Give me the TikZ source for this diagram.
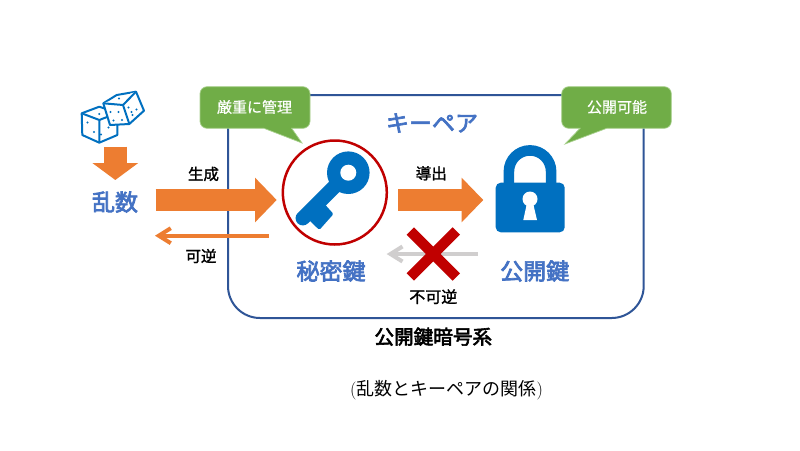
\documentclass[tikz,border=0pt]{standalone}
\usepackage{fontspec}
\newfontfamily\cjk{Noto Sans CJK JP}
\newfontfamily\cjkm[FakeBold=3]{Noto Sans CJK JP}
\newfontfamily\cjks[FakeBold=1.5]{Noto Sans CJK JP}
\newfontfamily\cjkw[FakeBold=0.6]{Noto Sans CJK JP}
\usetikzlibrary{arrows.meta}
\definecolor{cblue}{HTML}{4472C4}
\definecolor{iconblue}{HTML}{0070C0}
\definecolor{cframe}{HTML}{2F5597}
\definecolor{corange}{HTML}{ED7D31}
\definecolor{cgreen}{HTML}{70AD47}
\definecolor{cgreenl}{HTML}{A9D18E}
\definecolor{cred}{HTML}{C00000}
\definecolor{cgray}{HTML}{D0CECE}
\tikzset{
  lbl/.style={inner sep=0pt,font=\cjks\fontsize{15.5}{15.5}\selectfont,text=black},
  blue lbl/.style={inner sep=0pt,font=\cjkm\fontsize{23}{23}\selectfont,text=cblue},
  call lbl/.style={inner sep=0pt,font=\cjkw\fontsize{15}{15}\selectfont,text=white},
  callout/.style={fill=cgreen,draw=cgreenl,line width=.7pt},
  block/.style={corange,line width=21.7pt,-{Triangle[length=21.7pt,width=43.4pt]}},
  thin arrow/.style={line width=4pt,-{Straight Barb[length=12pt,width=15pt]}},
  die/.style={draw=iconblue,line width=2pt,fill=white,line join=round},
  pip/.style={fill=iconblue,draw=none},
}
\begin{document}
\begin{tikzpicture}[x=1pt,y=-1pt]
\useasboundingbox (0,0) rectangle (800,450);
\fill[white] (0,0) rectangle (800,450);
% frame
\node[draw=cframe,line width=2pt,rounded corners=32pt,minimum width=415.7pt,minimum height=223pt,inner sep=0pt] (frame) at (435.85,206.5) {};
% callouts
\draw[callout] (264,128.3) [rounded corners=7pt] -- (200,128.3) -- (200,86.7) -- (310,86.7) -- (310,128.3) [sharp corners] -- (291.7,128.3) -- (302,143) -- cycle;
\node[call lbl] (strict) at (254.5,107) {厳重に管理};
\draw[callout] (580,128.3) [rounded corners=7pt] -- (561.7,128.3) -- (561.7,86.7) -- (671.3,86.7) -- (671.3,128.3) [sharp corners] -- (606.7,128.3) -- (565,144) -- cycle;
\node[call lbl] (open) at (617,107) {公開可能};
% dice
\draw[die] (81.7,113.3) -- (99.3,106.7) -- (117.3,113) -- (117.3,135) -- (99.3,142.7) -- (82.3,135) -- cycle;
\draw[die] (81.7,113.3) -- (99.3,120) -- (117.3,113) (99.3,120) -- (99.3,142.7);
\draw[die] (103.3,103.3) -- (116.7,95) -- (136,91.7) -- (144,110.7) -- (129.3,124) -- (110,125) -- cycle;
\draw[die] (103.3,103.3) -- (123,105) -- (136,91.7) (123,105) -- (129.3,124);
\foreach \p in {(99.3,114),(87.5,122.5),(94,132),(108.5,127.5),(101,134.5),(119,98.5),(110.5,112),(118.5,112),(113.5,120.5),(122,120),(128.5,107.5),(131.5,112),(136.5,109.5),(132.5,115)}
  \fill[pip] \p circle[radius=1.1pt];
% nodes
\node[blue lbl] (ransu) at (115,202) {乱数};
\node[draw=cred,line width=2.5pt,circle,minimum size=104pt,inner sep=0pt] (keyc) at (334.8,192.5) {};
\node[blue lbl] (kp) at (432,123) {キーペア};
\node[blue lbl] (sec) at (331,271) {秘密鍵};
\node[blue lbl] (pub) at (534.7,271) {公開鍵};
\node[lbl] (seisei) at (203.5,174) {生成};
\node[lbl] (kagyaku) at (201,256) {可逆};
\node[lbl] (dousyutsu) at (431.3,173.3) {導出};
\node[inner sep=0pt,font=\cjks\fontsize{16}{16}\selectfont] (fukagyaku) at (433.3,296.7) {不可逆};
\node[inner sep=0pt,font=\cjkm\fontsize{19.6}{19.6}\selectfont] (system) at (433.3,336.7) {公開鍵暗号系};
\node[inner sep=0pt,font=\fontsize{18}{18}\selectfont] (caption) at (446.5,390) {({\cjk 乱数とキーペアの関係})};
% key
\fill[iconblue] (348.3,172.7) circle[radius=21.3pt];
\draw[iconblue,line width=14.5pt,line cap=round] (348.3,172.7) -- (302.8,218.2);
\fill[iconblue,rounded corners=1.5pt] (320,199) -- (333.5,214) -- (319.3,230) -- (304,215) -- cycle;
\fill[white] (348.3,172.7) circle[radius=8pt];
% lock
\fill[iconblue,rounded corners=5pt] (495.7,182.7) rectangle (564.7,232.3);
\draw[iconblue,line width=10.6pt] (508.9,184) -- (508.9,171.5) arc[start angle=180,end angle=0,radius=21.1pt] -- (551.1,184);
\fill[white] (530,199) circle[radius=7.5pt];
\fill[white] (527,203) -- (533,203) -- (537,220) -- (523.3,220) -- cycle;
\coordinate (lockw) at (483.3,200);
% arrows
\coordinate (diceb) at (115.3,146.7);
\coordinate (ransut) at (115.3,180);
\draw[corange,line width=22.7pt,-{Triangle[length=17pt,width=45pt]}] (diceb) -- (ransut);
\coordinate (genS) at (155.7,200);
\coordinate (genE) at (276.7,200);
\draw[block] (genS) -- (genE);
\coordinate (derS) at (398,200);
\draw[block] (derS) -- (lockw);
\coordinate (revS) at (269,235.7);
\coordinate (revE) at (155,235.7);
\draw[thin arrow,corange] (revS) -- (revE);
\coordinate (noS) at (477.7,254);
\coordinate (noE) at (386.7,254);
\draw[thin arrow,cgray] (noS) -- (noE);
% cross
\coordinate (xc) at (433.3,254);
\draw[cred,line width=10.5pt] ([xshift=-23pt,yshift=23pt]xc) -- ([xshift=23pt,yshift=-23pt]xc);
\draw[cred,line width=10.5pt] ([xshift=-23pt,yshift=-23pt]xc) -- ([xshift=23pt,yshift=23pt]xc);
\end{tikzpicture}
\end{document}
